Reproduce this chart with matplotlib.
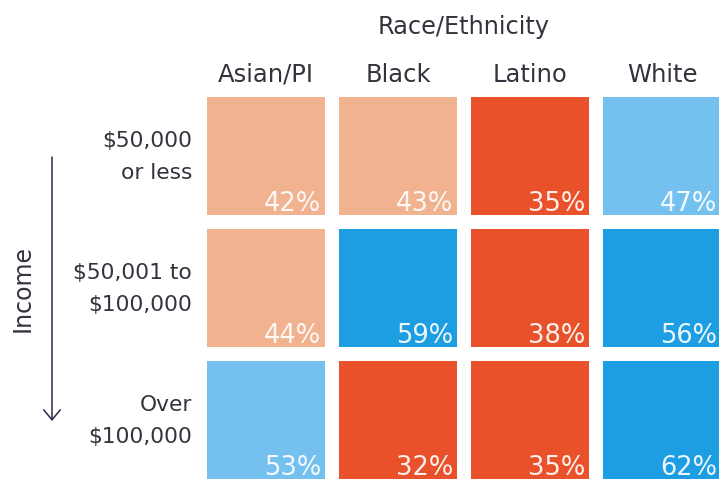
import matplotlib
matplotlib.use("Agg")
import matplotlib.pyplot as plt
from matplotlib.colors import ListedColormap, BoundaryNorm

# data
races = ["Asian/PI", "Black", "Latino", "White"]
incomes = ["$50,000\nor less", "$50,001 to\n$100,000", "Over\n$100,000"]
pct = [
    [42, 43, 35, 47],
    [44, 59, 38, 56],
    [53, 32, 35, 62],
]

# colour bins: <40 red, 40-45 peach, 45-55 light blue, >55 blue
bin_edges = [0, 40, 45, 55, 100]
bin_colors = ["#e9512b", "#f0b28f", "#74c1ef", "#1e9ee2"]
cmap = ListedColormap(bin_colors)
norm = BoundaryNorm(bin_edges, cmap.N)

text_col = "#33333d"
plt.rcParams["font.family"] = "DejaVu Sans"

W, H = 719, 481
pitch = 132.0          # px per cell step
cell = 118 / pitch     # cell size in data units

fig = plt.figure(figsize=(W / 100, H / 100), dpi=100)
left_px, top_px = 207, 98
ax = fig.add_axes([left_px / W, 0, (W - left_px) / W, (H - top_px) / H])
ax.set_xlim(0, (W - left_px) / pitch)
ax.set_ylim((H - top_px) / pitch, 0)
ax.axis("off")

for i, row in enumerate(pct):
    cols = list(range(len(row)))
    ax.bar(cols, [cell] * len(row), width=cell, bottom=i, align="edge",
           color=[cmap(norm(v)) for v in row], linewidth=0, clip_on=False)
    for j, v in enumerate(row):
        ax.text(j + cell - 4 / pitch, i + cell - 5 / pitch, f"{v}%",
                ha="right", va="baseline", color="white", fontsize=18.5,
                alpha=0.92, clip_on=False)

# column headers
for j, r in enumerate(races):
    ax.text(j + cell / 2, -16 / pitch, r, ha="center", va="baseline",
            fontsize=17.5, color=text_col)
ax.text((len(races) - 1 + cell) / 2, -64 / pitch, "Race/Ethnicity",
        ha="center", va="baseline", fontsize=17.3, color=text_col)

# row labels
for i, lab in enumerate(incomes):
    ax.text(-15 / pitch, i + cell / 2, lab, ha="right", va="center",
            fontsize=15.7, color=text_col, linespacing=1.7,
            multialignment="right")

# income axis + arrow
ax.text(-184 / pitch, 190 / pitch, "Income", rotation=90, ha="center",
        va="center", fontsize=17, color=text_col)
ax.annotate("", xy=(-155 / pitch, 324 / pitch), xytext=(-155 / pitch, 60 / pitch),
            arrowprops=dict(arrowstyle="->,head_length=0.72,head_width=0.6",
                            mutation_scale=10, lw=1.1, color="#2a2a48",
                            shrinkA=0, shrinkB=0),
            annotation_clip=False)

fig.savefig("out.png", dpi=100)
